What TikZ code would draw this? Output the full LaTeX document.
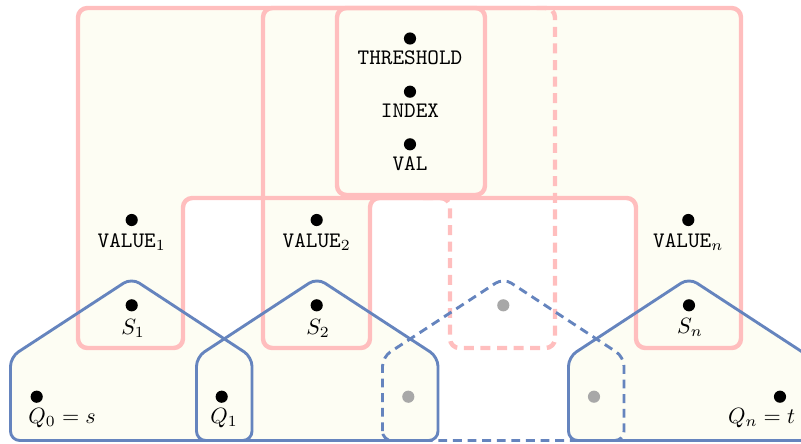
\documentclass[tikz,border=0pt]{standalone}
\usepackage{tikz}
\definecolor{pinkc}{RGB}{255,190,190}
\definecolor{bluec}{RGB}{101,132,190}
\definecolor{fillc}{RGB}{253,253,243}
\definecolor{dotgray}{RGB}{168,168,168}
\tikzset{
  dotb/.style={circle,fill=black,inner sep=0pt,minimum size=5.5pt},
  dotg/.style={circle,fill=dotgray,inner sep=0pt,minimum size=5.5pt},
  lbl/.style={anchor=base,inner sep=0pt},
  bagfill/.style={fill=fillc,rounded corners=4.2pt},
  pinkline/.style={draw=pinkc,line width=2pt,rounded corners=4.2pt},
  pinkdash/.style={pinkline,dash pattern=on 4.5pt off 3pt},
  blueline/.style={draw=bluec,line width=1.3pt,rounded corners=4.2pt},
  bluedash/.style={blueline,dash pattern=on 4pt off 2.6pt},
}
\begin{document}
\begin{tikzpicture}[x=0.452pt,y=-0.452pt]
\useasboundingbox (0,0) rectangle (801,443);
\clip (0,0) rectangle (801,443);
% fills
\path[bagfill] (78,8) -- (741,8) -- (741,348) -- (636,348) -- (636,198) -- (183,198) -- (183,348) -- (78,348) -- cycle;
\path[bagfill] (263,8) -- (370,8) -- (370,348) -- (263,348) -- cycle;
\path[bagfill] (337,8) rectangle (485,195);
\path[bagfill] (10.5,440.5) -- (10.5,357) -- (131.5,278) -- (252,357) -- (252,440.5) -- cycle;
\path[bagfill] (196.5,440.5) -- (196.5,357) -- (317,278) -- (438,357) -- (438,440.5) -- cycle;
\path[bagfill] (568.5,440.5) -- (568.5,357) -- (689,278) -- (810,357) -- (810,440.5) -- cycle;
% pink outlines
\draw[pinkline] (78,8) -- (741,8) -- (741,348) -- (636,348) -- (636,198) -- (183,198) -- (183,348) -- (78,348) -- cycle;
\draw[pinkline] (446,198) -- (370,198) -- (370,348) -- (263,348) -- (263,8) -- (520,8);
\draw[pinkdash] (520,8) -- (555,8) -- (555,348) -- (450,348) -- (450,198) -- (420,198);
\draw[pinkline] (337,8) rectangle (485,195);
% blue outlines
\draw[bluedash] (382.5,440.5) -- (382.5,357) -- (503.5,278) -- (624,357) -- (624,440.5) -- cycle;
\draw[blueline] (10.5,440.5) -- (10.5,357) -- (131.5,278) -- (252,357) -- (252,440.5) -- cycle;
\draw[blueline] (196.5,440.5) -- (196.5,357) -- (317,278) -- (438,357) -- (438,440.5) -- cycle;
\draw[blueline] (568.5,440.5) -- (568.5,357) -- (689,278) -- (810,357) -- (810,440.5) -- cycle;
% points and labels
\node[dotb] (thr) at (410,38.5) {};
\node[lbl] (thrl) at (410,64.3) {\texttt{THRESHOLD}};
\node[dotb] (idx) at (410,91.7) {};
\node[lbl] (idxl) at (410,117.3) {\texttt{INDEX}};
\node[dotb] (val) at (410,144.3) {};
\node[lbl] (vall) at (410,170.7) {\texttt{VAL}};
\node[dotb] (v1) at (131.7,220) {};
\node[lbl] (v1l) at (131.7,247) {\texttt{VALUE}$_1$};
\node[dotb] (v2) at (316.7,220) {};
\node[lbl] (v2l) at (316.7,247) {\texttt{VALUE}$_2$};
\node[dotb] (vn) at (688.3,220) {};
\node[lbl] (vnl) at (688.3,247) {\texttt{VALUE}$_n$};
\node[dotb] (s1) at (131.7,305.3) {};
\node[lbl] (s1l) at (133,334) {$S_1$};
\node[dotb] (s2) at (316.7,305.3) {};
\node[lbl] (s2l) at (318,334) {$S_2$};
\node[dotg] (s3) at (503.3,305.3) {};
\node[dotb] (sn) at (689,305.3) {};
\node[lbl] (snl) at (690,333.5) {$S_n$};
\node[dotb] (q0) at (36.7,396.7) {};
\node[lbl,anchor=base west] (q0l) at (28,423.3) {$Q_0=s$};
\node[dotb] (q1) at (221.7,396.7) {};
\node[lbl] (q1l) at (224,423.3) {$Q_1$};
\node[dotg] (q2) at (408.3,396.7) {};
\node[dotg] (q3) at (594,396.7) {};
\node[dotb] (qn) at (780,396.7) {};
\node[lbl,anchor=base east] (qnl) at (795.5,423.3) {$Q_n=t$};
\end{tikzpicture}
\end{document}
